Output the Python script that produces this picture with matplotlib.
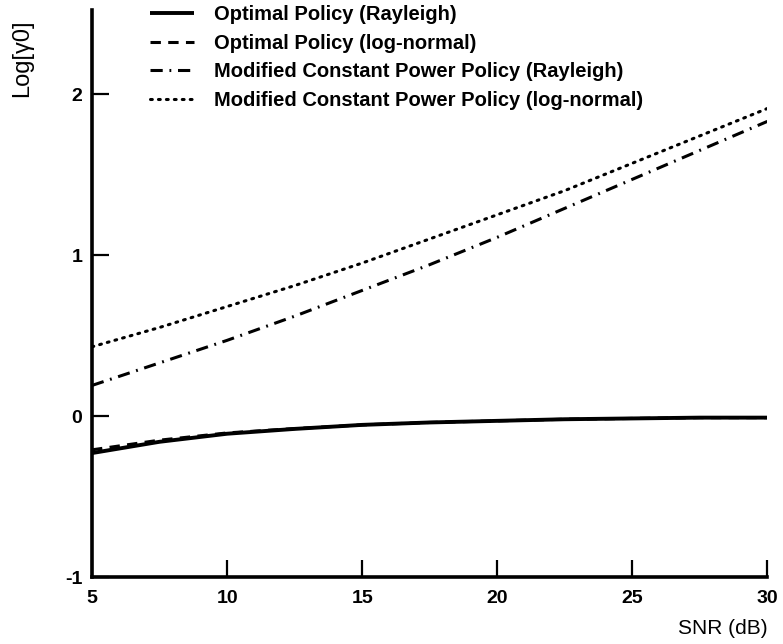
import matplotlib
matplotlib.use('Agg')
import matplotlib.pyplot as plt

# SNR grid (dB) and log threshold values for each policy
snr_db = [5, 7.5, 10, 12.5, 15, 17.5, 20, 22.5, 25, 27.5, 30]
opt_rayleigh = [-0.23, -0.16, -0.11, -0.08, -0.055, -0.04, -0.03, -0.02, -0.015, -0.01, -0.01]
opt_lognormal = [-0.21, -0.15, -0.105, -0.078, -0.055, -0.04, -0.03, -0.02, -0.015, -0.01, -0.01]
mcp_rayleigh = [0.19, 0.33, 0.47, 0.62, 0.78, 0.94, 1.11, 1.29, 1.47, 1.65, 1.83]
mcp_lognormal = [0.43, 0.55, 0.68, 0.81, 0.95, 1.10, 1.25, 1.40, 1.57, 1.74, 1.91]

labels = ["Optimal Policy (Rayleigh)",
          "Optimal Policy (log-normal)",
          "Modified Constant Power Policy (Rayleigh)",
          "Modified Constant Power Policy (log-normal)"]

x_ticks = [5, 10, 15, 20, 25, 30]
y_ticks = [-1, 0, 1, 2]

plt.rcParams['font.family'] = ['Liberation Sans', 'DejaVu Sans']

fig = plt.figure(figsize=(7.83, 6.44), dpi=100)
ax = fig.add_axes([0.1175, 0.104, 0.8625, 0.88])

lw = 2.2
ax.plot(snr_db, opt_rayleigh, color='black', lw=lw + 0.6, solid_capstyle='butt', label=labels[0])
ax.plot(snr_db, opt_lognormal, color='black', lw=lw, dashes=(3.4, 2.4), label=labels[1])
ax.plot(snr_db, mcp_rayleigh, color='black', lw=lw, dashes=(4.0, 2.2, 0.6, 2.2), label=labels[2])
ax.plot(snr_db, mcp_lognormal, color='black', lw=lw, dashes=(0.6, 2.0),
        dash_capstyle='round', label=labels[3])

ax.set_xlim(5, 30)
ax.set_ylim(-1, 2.52)
ax.set_xticks(x_ticks)
ax.set_yticks(y_ticks)
ax.set_xticklabels([str(v) for v in x_ticks], fontweight='bold', fontsize=14)
ax.set_yticklabels([str(v) for v in y_ticks], fontweight='bold', fontsize=14)

for side in ['top', 'right']:
    ax.spines[side].set_visible(False)
for side in ['left', 'bottom']:
    ax.spines[side].set_linewidth(2.6)

ax.tick_params(axis='both', direction='in', length=12, width=1.6)
ax.tick_params(axis='x', pad=9)
ax.tick_params(axis='y', pad=7)

fig.text(22 / 783, 1 - 58 / 644, "Log[\u03b30]", rotation=90, ha='center', va='center', fontsize=17)
fig.text(768 / 783, 1 - 628 / 644, "SNR (dB)", ha='right', va='center', fontsize=15)

ax.legend(loc='upper left', bbox_to_anchor=(145 / 783, 1.0), bbox_transform=fig.transFigure,
          frameon=False, prop={'weight': 'bold', 'size': 14.5},
          handlelength=2.2, handletextpad=1.0, labelspacing=0.48, borderaxespad=0.25,
          borderpad=0.0)

fig.savefig('out.png', dpi=100)
